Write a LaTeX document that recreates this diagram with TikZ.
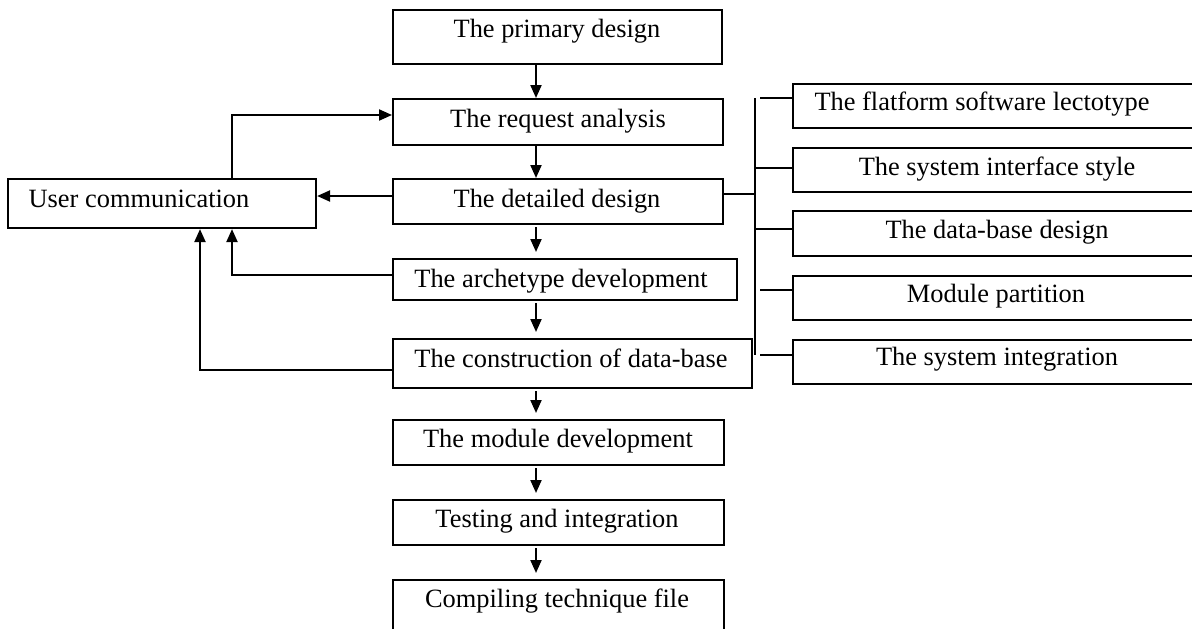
\documentclass[tikz,border=0pt]{standalone}
\usepackage{fontspec}
\setmainfont{Liberation Serif}
\usetikzlibrary{arrows.meta}
\begin{document}
\begin{tikzpicture}[x=1pt,y=-1pt,
  box/.style={draw, line width=2.1pt, inner sep=0pt, anchor=north west},
  lbl/.style={anchor=base, inner sep=0pt, font=\fontsize{26.4}{30}\selectfont},
  ln/.style={line width=2.1pt},
  arr/.style={ln, -{Triangle[length=13pt,width=11pt]}},
  gap/.style={shorten <=2pt, shorten >=6pt}]
\useasboundingbox (0,0) rectangle (1192,629);
\clip (0,0) rectangle (1192,629);
% central column
\node[box, minimum width=329pt, minimum height=54pt] (prim) at (392,9) {};
\node[box, minimum width=330pt, minimum height=46pt] (req)  at (392,98) {};
\node[box, minimum width=330pt, minimum height=45pt] (det)  at (392,178) {};
\node[box, minimum width=344pt, minimum height=41pt] (arch) at (392,258) {};
\node[box, minimum width=359pt, minimum height=49pt] (cons) at (392,338) {};
\node[box, minimum width=331pt, minimum height=45pt] (mod)  at (392,419) {};
\node[box, minimum width=331pt, minimum height=45pt] (test) at (392,499) {};
\node[box, minimum width=331pt, minimum height=70pt] (comp) at (392,579) {};
% left box
\node[box, minimum width=308pt, minimum height=49pt] (user) at (7,178) {};
% right boxes
\node[box, minimum width=420pt, minimum height=44pt] (r1) at (792,83) {};
\node[box, minimum width=420pt, minimum height=44pt] (r2) at (792,147) {};
\node[box, minimum width=420pt, minimum height=45pt] (r3) at (792,210) {};
\node[box, minimum width=420pt, minimum height=44pt] (r4) at (792,275) {};
\node[box, minimum width=420pt, minimum height=44pt] (r5) at (792,339) {};
% labels
\node[lbl] (tprim) at (557,37)  {The primary design};
\node[lbl] (treq)  at (558,127) {The request analysis};
\node[lbl] (tdet)  at (557,207) {The detailed design};
\node[lbl] (tarch) at (561,287) {The archetype development};
\node[lbl] (tcons) at (571,367) {The construction of data-base};
\node[lbl] (tmod)  at (558,447) {The module development};
\node[lbl] (ttest) at (557,527) {Testing and integration};
\node[lbl] (tcomp) at (557,607) {Compiling technique file};
\node[lbl] (tuser) at (139,207) {User communication};
\node[lbl] (tr1) at (982,110) {The flatform software lectotype};
\node[lbl] (tr2) at (997,175) {The system interface style};
\node[lbl] (tr3) at (997,238) {The data-base design};
\node[lbl] (tr4) at (996,302) {Module partition};
\node[lbl] (tr5) at (997,365) {The system integration};
% central arrows
\coordinate (cx) at (536,0);
\draw[arr] (prim.south -| cx) -- (req.north -| cx);
\draw[arr] (req.south -| cx) -- (det.north -| cx);
\draw[arr, gap] (det.south -| cx) -- (arch.north -| cx);
\draw[arr, gap] (arch.south -| cx) -- (cons.north -| cx);
\draw[arr, gap] (cons.south -| cx) -- (mod.north -| cx);
\draw[arr, gap] (mod.south -| cx) -- (test.north -| cx);
\draw[arr, gap] (test.south -| cx) -- (comp.north -| cx);
% user communication connectors
\coordinate (ux1) at (232,115);
\draw[arr] (user.north -| ux1) |- (req.west |- ux1);
\coordinate (dy) at (0,196);
\draw[arr] (det.west |- dy) -- (user.east |- dy);
\coordinate (ay) at (232,275);
\draw[arr] (arch.west |- ay) -| (user.south -| ay);
\coordinate (cy) at (200,370);
\draw[arr] (cons.west |- cy) -| (user.south -| cy);
% right bracket
\coordinate (vt) at (755,98);
\coordinate (vb) at (755,355);
\draw[ln] (vt) -- (vb);
\coordinate (by) at (755,194);
\draw[ln] (det.east |- by) -- (by);
\coordinate (b1) at (760,98);
\coordinate (b2) at (755,168);
\coordinate (b3) at (755,229);
\coordinate (b4) at (760,290);
\coordinate (b5) at (760,355);
\draw[ln] (b1) -- (r1.west |- b1);
\draw[ln] (b2) -- (r2.west |- b2);
\draw[ln] (b3) -- (r3.west |- b3);
\draw[ln] (b4) -- (r4.west |- b4);
\draw[ln] (b5) -- (r5.west |- b5);
\end{tikzpicture}
\end{document}
